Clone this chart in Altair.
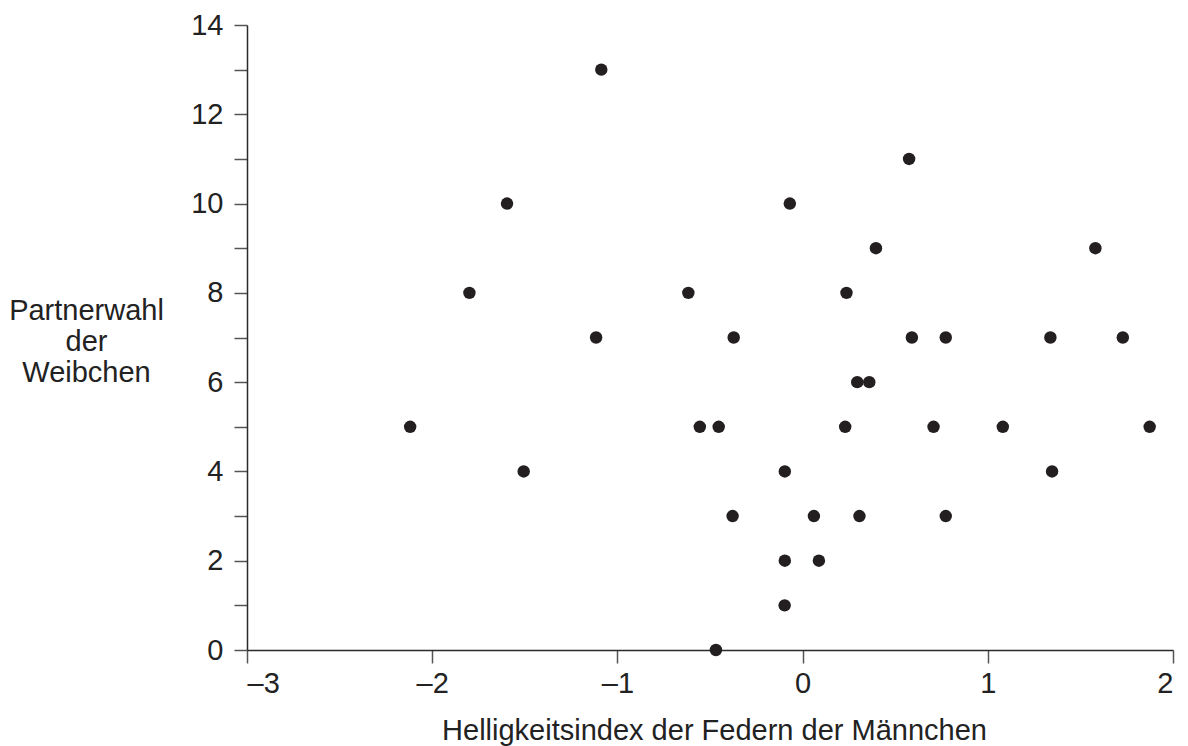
import altair as alt
import pandas as pd

# Helligkeitsindex (x) and Partnerwahl (y)
x_vals = [-1.087, 0.575, -1.596, -0.069, 0.396, 1.581, -1.799, -0.617, 0.237,
          -1.115, -0.372, 0.590, 0.773, 1.338, 1.729, 0.295, 0.360,
          -2.119, -0.555, -0.453, 0.230, 0.707, 1.081, 1.874,
          -1.506, -0.096, 1.347, -0.378, 0.061, 0.307, 0.773,
          -0.096, 0.088, -0.097, -0.468]
y_vals = [13, 11, 10, 10, 9, 9, 8, 8, 8,
          7, 7, 7, 7, 7, 7, 6, 6,
          5, 5, 5, 5, 5, 5, 5,
          4, 4, 4, 3, 3, 3, 3,
          2, 2, 1, 0]

x_ticks = [-3, -2, -1, 0, 1, 2]
y_ticks = list(range(0, 15))

df = pd.DataFrame({"x": x_vals, "y": y_vals})

FONT = "Liberation Sans"
FS = 29
AX = "#2b2b2b"

chart = alt.Chart(df).mark_circle(size=155, color="#231f20", opacity=1).encode(
    x=alt.X("x:Q", scale=alt.Scale(domain=[-3, 2], nice=False, zero=False),
            axis=alt.Axis(values=x_ticks, title="Helligkeitsindex der Federn der Männchen",
                          grid=False, tickSize=13, labelPadding=6,
                          labelExpr="replace(datum.label, '−', '–')",
                          labelFont=FONT, labelFontSize=FS, labelColor="#222",
                          titleFont=FONT, titleFontSize=FS, titleFontWeight="normal",
                          titleColor="#222", titleBaseline="alphabetic", titleY=89,
                          titleX=467, titleAnchor="middle",
                          domainColor=AX, tickColor="#555", domainWidth=1.5, tickWidth=1.5)),
    y=alt.Y("y:Q", scale=alt.Scale(domain=[0, 14], nice=False),
            axis=alt.Axis(values=y_ticks, title=["Partnerwahl", "der", "Weibchen"],
                          grid=False, tickSize=13, labelPadding=11,
                          labelExpr="datum.value % 2 == 0 ? datum.label : ''",
                          labelFont=FONT, labelFontSize=FS, labelColor="#222",
                          titleFont=FONT, titleFontSize=FS, titleFontWeight="normal",
                          titleColor="#222", titleAngle=0, titleAlign="center",
                          titleBaseline="top", titleX=-161, titleY=271,
                          titleLineHeight=31,
                          domainColor=AX, tickColor="#555", domainWidth=1.5, tickWidth=1.5)),
).properties(
    width=926, height=625,
    background="white",
    autosize=alt.AutoSizeParams(type="none"),
    padding={"left": 247, "top": 25, "right": 15, "bottom": 96},
).configure_view(strokeWidth=0, stroke="transparent")

chart.save("out.html", embed_options={"renderer": "svg", "actions": False})
